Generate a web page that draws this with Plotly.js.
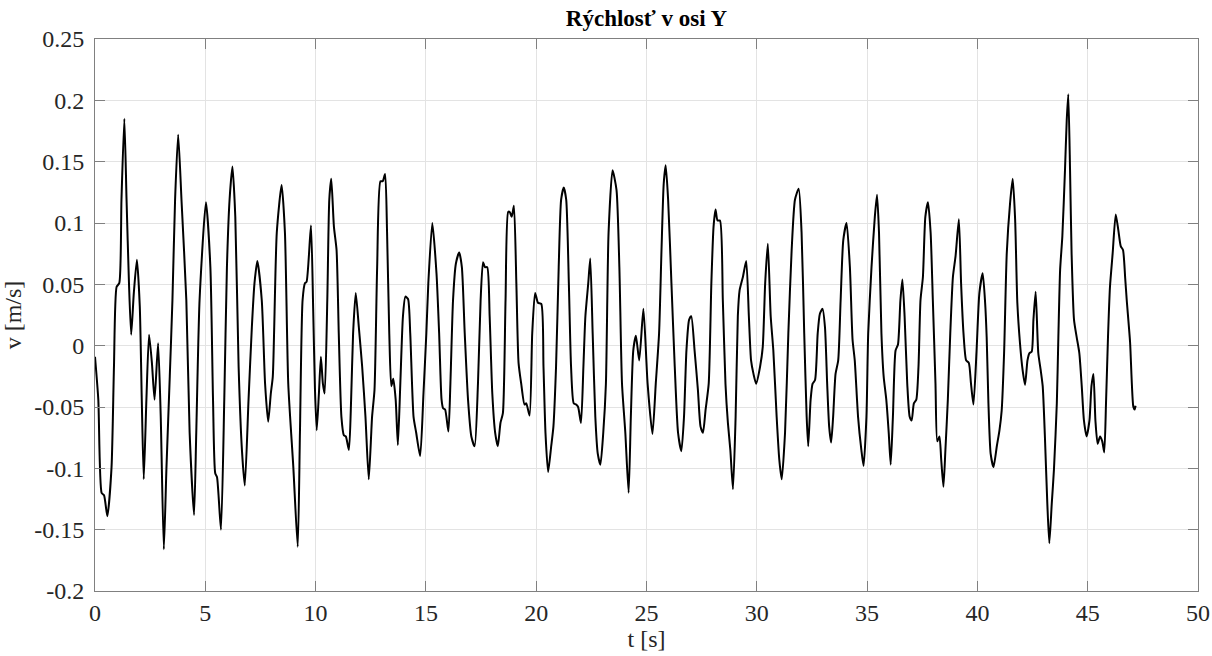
<!DOCTYPE html>
<html>
<head>
<meta charset="utf-8">
<script src="https://cdn.plot.ly/plotly-3.0.1.min.js"></script>
<style>html,body{margin:0;padding:0;background:#fff;}#chart{width:1212px;height:656px;}</style>
</head>
<body>
<div id="chart"></div>
<script>
const chartTitle = "Rýchlosť v osi Y";
const xLabel = "t [s]";
const yLabel = "v [m/s]";

const xTickVals = [0, 5, 10, 15, 20, 25, 30, 35, 40, 45, 50];
const xTickText = ["0", "5", "10", "15", "20", "25", "30", "35", "40", "45", "50"];
const yTickVals = [-0.2, -0.15, -0.1, -0.05, 0, 0.05, 0.1, 0.15, 0.2, 0.25];
const yTickText = ["-0.2", "-0.15", "-0.1", "-0.05", "0", "0.05", "0.1", "0.15", "0.2", "0.25"];

const time = [
0.00,0.15,0.30,0.41,0.56,0.75,0.86,0.98,1.10,1.20,1.33,1.43,1.54,1.64,1.76,1.90,2.03,2.12,2.21,2.33,
2.45,2.58,2.70,2.86,2.98,3.12,3.24,3.39,3.51,3.63,3.77,3.92,4.14,4.29,4.49,4.59,4.74,5.03,5.23,5.35,
5.45,5.53,5.71,5.86,5.98,6.10,6.23,6.36,6.51,6.66,6.79,6.96,7.11,7.23,7.36,7.56,7.71,7.85,7.97,8.06,
8.24,8.46,8.61,8.76,8.99,9.19,9.29,9.41,9.52,9.59,9.79,9.89,9.97,10.05,10.15,10.24,10.33,10.41,10.53,10.62,
10.71,10.83,10.95,11.05,11.17,11.28,11.37,11.51,11.61,11.70,11.82,11.96,12.11,12.26,12.41,12.56,12.67,12.79,12.94,13.04,
13.15,13.24,13.34,13.43,13.52,13.63,13.73,13.84,13.96,14.07,14.19,14.29,14.44,14.56,14.74,14.89,15.02,15.11,15.29,15.48,
15.60,15.71,15.78,15.87,16.02,16.11,16.23,16.36,16.51,16.63,16.76,16.91,17.06,17.21,17.36,17.48,17.59,17.68,17.78,17.89,
18.01,18.14,18.26,18.38,18.49,18.61,18.73,18.80,18.89,18.99,19.10,19.20,19.32,19.47,19.55,19.70,19.82,19.95,20.08,20.23,
20.33,20.42,20.54,20.68,20.78,20.90,21.02,21.13,21.25,21.36,21.48,21.58,21.70,21.81,21.90,22.03,22.14,22.23,22.36,22.45,
22.56,22.68,22.79,22.91,23.04,23.16,23.28,23.46,23.64,23.77,23.89,24.04,24.19,24.29,24.40,24.52,24.67,24.86,25.05,25.27,
25.42,25.57,25.68,25.78,25.87,25.98,26.13,26.28,26.43,26.58,26.70,26.81,26.93,27.03,27.18,27.33,27.45,27.56,27.68,27.82,
27.94,28.04,28.13,28.22,28.33,28.46,28.58,28.69,28.80,28.92,29.04,29.14,29.22,29.37,29.52,29.64,29.74,29.85,29.97,30.15,
30.27,30.38,30.50,30.63,30.75,30.90,31.02,31.13,31.28,31.43,31.58,31.73,31.90,32.03,32.15,32.26,32.33,32.44,32.53,32.64,
32.76,32.86,32.98,33.09,33.19,33.28,33.37,33.46,33.57,33.69,33.80,33.92,34.07,34.22,34.34,34.44,34.59,34.74,34.84,34.97,
35.05,35.20,35.35,35.45,35.54,35.65,35.75,35.87,35.98,36.07,36.17,36.29,36.40,36.51,36.60,36.70,36.82,36.93,37.02,37.12,
37.23,37.33,37.42,37.53,37.64,37.76,37.88,37.98,38.10,38.18,38.28,38.36,38.46,38.55,38.66,38.77,38.89,39.01,39.16,39.26,
39.37,39.49,39.61,39.71,39.82,39.96,40.09,40.24,40.35,40.42,40.50,40.60,40.73,40.88,41.00,41.10,41.21,41.33,41.48,41.60,
41.71,41.81,41.93,42.05,42.16,42.27,42.36,42.46,42.54,42.64,42.76,42.87,42.96,43.06,43.17,43.26,43.37,43.47,43.60,43.67,
43.75,43.85,43.97,44.05,44.12,44.20,44.27,44.38,44.50,44.62,44.73,44.83,44.95,45.08,45.17,45.26,45.35,45.45,45.56,45.66,
45.75,45.83,45.92,46.01,46.13,46.27,46.39,46.50,46.60,46.70,46.77,46.92,47.07,47.13,47.17
];

const velocity = [
-0.009,-0.044,-0.120,-0.122,-0.139,-0.099,-0.017,0.048,0.051,0.119,0.185,0.119,0.051,0.009,0.043,0.070,0.032,-0.044,-0.109,-0.044,
0.009,-0.014,-0.044,0.002,-0.058,-0.166,-0.099,-0.025,0.037,0.119,0.172,0.119,0.037,-0.071,-0.138,-0.071,0.037,0.117,0.064,-0.044,
-0.104,-0.107,-0.150,-0.044,0.064,0.119,0.146,0.105,-0.017,-0.085,-0.114,-0.044,0.015,0.051,0.069,0.037,-0.031,-0.062,-0.039,-0.025,
0.092,0.131,0.092,-0.031,-0.099,-0.164,-0.071,0.037,0.051,0.052,0.098,0.030,-0.035,-0.069,-0.039,-0.009,-0.031,-0.039,0.037,0.119,
0.136,0.097,0.078,0.010,-0.058,-0.073,-0.074,-0.085,-0.044,0.010,0.043,0.015,-0.017,-0.058,-0.109,-0.058,-0.036,0.064,0.134,0.134,
0.140,0.092,0.010,-0.033,-0.027,-0.044,-0.081,-0.031,0.024,0.040,0.038,0.010,-0.058,-0.071,-0.090,-0.039,0.010,0.051,0.100,0.059,
0.010,-0.044,-0.051,-0.052,-0.070,-0.031,0.037,0.067,0.076,0.064,0.010,-0.044,-0.074,-0.082,-0.031,0.037,0.068,0.064,0.064,0.024,
-0.039,-0.071,-0.082,-0.063,-0.055,0.037,0.109,0.109,0.105,0.114,0.051,-0.014,-0.031,-0.048,-0.047,-0.057,0.010,0.043,0.035,0.034,
-0.017,-0.071,-0.103,-0.082,-0.066,-0.017,0.064,0.119,0.129,0.119,0.051,-0.017,-0.047,-0.048,-0.050,-0.063,-0.017,0.024,0.051,0.071,
0.010,-0.058,-0.088,-0.097,-0.071,-0.031,0.092,0.143,0.127,0.064,-0.031,-0.071,-0.120,-0.058,-0.004,0.008,-0.012,0.030,-0.031,-0.072,
-0.031,0.010,0.078,0.132,0.147,0.119,0.051,-0.017,-0.071,-0.086,-0.058,-0.004,0.021,0.024,-0.004,-0.036,-0.066,-0.071,-0.052,-0.031,
0.051,0.097,0.111,0.102,0.102,0.037,-0.031,-0.063,-0.085,-0.117,-0.058,0.024,0.045,0.056,0.069,0.024,-0.012,-0.023,-0.031,-0.017,
-0.001,0.051,0.083,0.024,-0.004,-0.058,-0.093,-0.109,-0.071,0.010,0.078,0.119,0.128,0.092,0.010,-0.058,-0.082,-0.044,-0.031,-0.028,
0.010,0.026,0.030,0.015,-0.031,-0.066,-0.079,-0.058,-0.023,-0.012,0.037,0.086,0.100,0.064,0.005,-0.012,-0.058,-0.085,-0.098,-0.058,
0.010,0.064,0.105,0.123,0.092,0.010,-0.025,-0.044,-0.071,-0.097,-0.058,-0.004,0.001,0.037,0.054,0.024,-0.031,-0.058,-0.061,-0.047,
-0.044,-0.017,0.037,0.056,0.105,0.117,0.092,0.037,-0.031,-0.078,-0.074,-0.093,-0.115,-0.085,-0.044,0.010,0.056,0.073,0.103,0.051,
0.010,-0.012,-0.014,-0.031,-0.048,-0.005,0.043,0.059,0.035,0.007,-0.047,-0.088,-0.099,-0.082,-0.069,-0.053,-0.006,0.075,0.116,0.136,
0.103,0.035,0.002,-0.020,-0.032,-0.012,-0.006,-0.005,0.021,0.044,-0.006,-0.020,-0.033,-0.074,-0.129,-0.161,-0.129,-0.101,-0.047,0.007,
0.062,0.089,0.143,0.184,0.205,0.143,0.075,0.021,0.007,-0.006,-0.033,-0.061,-0.074,-0.061,-0.033,-0.023,-0.061,-0.080,-0.074,-0.078,
-0.087,-0.047,0.007,0.048,0.075,0.107,0.094,0.081,0.078,0.055,0.037,0.003,-0.050,-0.052,-0.049
];

const serif = "Liberation Serif";
function axisFont() { return {family: serif, size: 24, color: "#262626"}; }

const trace = {
  x: time,
  y: velocity,
  type: "scatter",
  mode: "lines",
  line: {color: "#000000", width: 2, shape: "spline", smoothing: 0.6},
  hoverinfo: "skip"
};

const layout = {
  width: 1212,
  height: 656,
  margin: {l: 95, r: 14, t: 39, b: 65, pad: 0},
  paper_bgcolor: "#ffffff",
  plot_bgcolor: "#ffffff",
  showlegend: false,
  font: {family: serif, size: 24, color: "#262626"},
  title: {
    text: chartTitle,
    font: {family: serif, size: 23, color: "#000000", weight: "bold"},
    x: 0.5, xref: "paper", xanchor: "center",
    y: 1 - 18/656, yref: "container", yanchor: "middle"
  },
  xaxis: {
    range: [0, 50],
    tickmode: "array",
    tickvals: xTickVals,
    ticktext: xTickText,
    ticks: "inside",
    ticklen: 10,
    tickwidth: 1,
    tickcolor: "#808080",
    showline: true,
    linecolor: "#808080",
    linewidth: 1,
    mirror: "ticks",
    showgrid: true,
    gridcolor: "#e3e3e3",
    gridwidth: 1,
    zeroline: false,
    tickfont: axisFont(),
    ticklabelstandoff: 0,
    title: {text: xLabel, font: axisFont(), standoff: 2}
  },
  yaxis: {
    range: [-0.2, 0.25],
    tickmode: "array",
    tickvals: yTickVals,
    ticktext: yTickText,
    ticks: "inside",
    ticklen: 10,
    tickwidth: 1,
    tickcolor: "#808080",
    showline: true,
    linecolor: "#808080",
    linewidth: 1,
    mirror: "ticks",
    showgrid: true,
    gridcolor: "#e3e3e3",
    gridwidth: 1,
    zeroline: false,
    tickfont: axisFont(),
    ticklabelstandoff: 5,
    title: {text: yLabel, font: axisFont(), standoff: 10}
  }
};

Plotly.newPlot("chart", [trace], layout, {staticPlot: true, displayModeBar: false});
</script>
</body>
</html>
